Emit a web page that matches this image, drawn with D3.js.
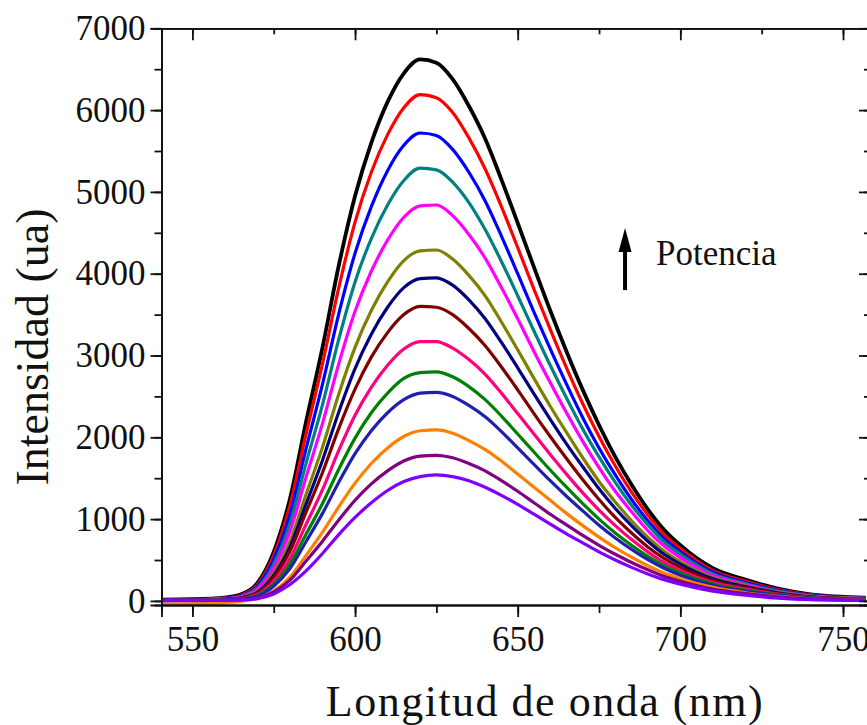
<!DOCTYPE html>
<html>
<head>
<meta charset="utf-8">
<script src="https://cdn.jsdelivr.net/npm/d3@7"></script>
<style>
  body { margin: 0; background: #fff; overflow: hidden; }
  text { font-family: "Liberation Serif", "Times New Roman", serif; fill: #111; }
</style>
</head>
<body>
<svg width="867" height="725"></svg>
<script>
var wavelengths = [540, 550, 560, 565, 570, 575, 580, 585, 590, 595, 600, 605, 610, 615, 620, 625, 630, 635, 640, 645,
                   650, 655, 660, 665, 670, 675, 680, 685, 690, 695, 700, 710, 720, 730, 740, 757];

// one intensity array per pump power, highest first
var sBlack   = [15, 20, 40, 80, 220, 600, 1250, 2200, 3100, 4100, 4950, 5600, 6100, 6450, 6620, 6580, 6380, 6050, 5650, 5150,
                4620, 4080, 3550, 3050, 2580, 2150, 1760, 1420, 1120, 870, 680, 400, 260, 150, 80, 40];
var sRed     = [12, 18, 35, 72, 200, 560, 1170, 2050, 2900, 3830, 4630, 5240, 5700, 6030, 6190, 6150, 5970, 5660, 5280, 4820,
                4320, 3810, 3320, 2850, 2410, 2010, 1650, 1330, 1050, 810, 640, 370, 240, 140, 75, 35];
var sBlue    = [10, 15, 32, 65, 180, 510, 1060, 1870, 2650, 3510, 4250, 4820, 5260, 5570, 5720, 5690, 5520, 5240, 4890, 4460,
                4000, 3530, 3080, 2650, 2240, 1870, 1540, 1240, 980, 760, 600, 350, 225, 130, 70, 35];
var sTeal    = [10, 14, 28, 58, 160, 450, 950, 1690, 2400, 3200, 3900, 4430, 4840, 5140, 5290, 5270, 5120, 4870, 4540, 4150,
                3730, 3300, 2880, 2480, 2100, 1760, 1450, 1170, 930, 720, 570, 330, 210, 120, 65, 30];
var sMagenta = [8, 12, 25, 50, 140, 400, 850, 1520, 2170, 2900, 3540, 4030, 4410, 4690, 4830, 4840, 4710, 4480, 4190, 3830,
                3450, 3050, 2670, 2300, 1950, 1630, 1340, 1090, 860, 670, 530, 310, 200, 110, 60, 30];
var sOlive   = [8, 12, 22, 42, 115, 340, 730, 1310, 1880, 2530, 3100, 3550, 3900, 4160, 4280, 4290, 4180, 3980, 3730, 3410,
                3070, 2720, 2380, 2060, 1750, 1460, 1210, 980, 780, 610, 480, 285, 185, 105, 55, 28];
var sNavy    = [6, 10, 20, 38, 105, 310, 660, 1190, 1720, 2310, 2840, 3260, 3590, 3830, 3940, 3950, 3860, 3680, 3450, 3160,
                2850, 2530, 2220, 1920, 1640, 1370, 1130, 920, 730, 570, 450, 270, 175, 100, 50, 25];
var sWine    = [6, 9, 18, 36, 100, 290, 610, 1090, 1570, 2110, 2590, 2980, 3280, 3500, 3600, 3590, 3500, 3330, 3120, 2860,
                2580, 2290, 2010, 1740, 1480, 1240, 1020, 830, 660, 520, 410, 250, 160, 90, 45, 22];
var sPink    = [5, 8, 15, 30, 80, 240, 520, 940, 1360, 1840, 2270, 2610, 2880, 3080, 3170, 3170, 3090, 2950, 2770, 2540,
                2290, 2040, 1790, 1550, 1320, 1110, 920, 750, 600, 470, 370, 225, 145, 80, 40, 20];
var sGreen   = [5, 7, 13, 25, 68, 205, 450, 820, 1190, 1610, 1990, 2300, 2540, 2720, 2790, 2800, 2740, 2620, 2460, 2260,
                2040, 1820, 1600, 1390, 1190, 1000, 830, 680, 545, 430, 340, 205, 130, 75, 38, 18];
var sRoyal   = [4, 6, 11, 22, 58, 180, 395, 730, 1070, 1450, 1800, 2080, 2300, 2460, 2540, 2550, 2500, 2390, 2250, 2070,
                1870, 1670, 1470, 1280, 1100, 925, 770, 630, 505, 400, 315, 190, 120, 70, 35, 15];
var sOrange  = [-40, -35, -20, -5, 30, 120, 290, 560, 840, 1150, 1440, 1680, 1870, 2010, 2080, 2090, 2050, 1960, 1850, 1710,
                1550, 1390, 1230, 1070, 920, 780, 650, 535, 430, 340, 270, 165, 100, 55, 25, 10];
var sPurple  = [3, 4, 8, 14, 35, 110, 255, 490, 730, 990, 1230, 1430, 1590, 1710, 1770, 1780, 1750, 1680, 1590, 1470,
                1340, 1200, 1060, 930, 800, 680, 570, 470, 380, 300, 240, 145, 90, 50, 25, 10];
var sViolet  = [10, 8, 8, 12, 28, 85, 200, 370, 580, 810, 1020, 1200, 1350, 1460, 1520, 1540, 1520, 1470, 1390, 1290,
                1180, 1060, 940, 820, 710, 600, 500, 410, 330, 260, 205, 120, 70, 35, 15, 5];

var seriesValues = [sBlack, sRed, sBlue, sTeal, sMagenta, sOlive, sNavy, sWine, sPink, sGreen, sRoyal, sOrange, sPurple, sViolet];
var seriesColors = ['#000000', '#ff0000', '#0000ff', '#008080', '#ff00ff', '#808000', '#000080', '#800000',
                    '#ff0080', '#008000', '#2020b0', '#ff8000', '#800080', '#8000ff'];

var xTicks = [550, 600, 650, 700, 750];
var yTicks = [0, 1000, 2000, 3000, 4000, 5000, 6000, 7000];

// arrow annotation, in data units
var arrowX = 683;
var arrowFrom = 3800;
var arrowTo = 4560;
var arrowLabel = 'Potencia';

var svg = d3.select('svg');
// frame edges in px (right edge falls just outside the window, like the reference)
var pLeft = 161.5, pRight = 870, pTop = 28.3, pBottom = 605;

var x = d3.scaleLinear().domain([540.5, 758.3]).range([pLeft, pRight]);
var y = d3.scaleLinear().domain([-50, 7000]).range([pBottom, pTop]);

svg.append('defs').append('clipPath').attr('id', 'plot')
  .append('rect')
    .attr('x', pLeft).attr('y', pTop)
    .attr('width', pRight - pLeft).attr('height', pBottom - pTop);

// spectra
var line = d3.line()
  .x((d, i) => x(wavelengths[i]))
  .y(d => y(d))
  .curve(d3.curveMonotoneX);

svg.append('g')
    .attr('clip-path', 'url(#plot)')
  .selectAll('path')
  .data(seriesValues)
  .enter()
  .append('path')
    .attr('fill', 'none')
    .attr('stroke', (d, i) => seriesColors[i])
    .attr('stroke-width', (d, i) => i === 0 ? 3.8 : 3.2)
    .attr('stroke-linejoin', 'round')
    .attr('d', line);

// minor ticks every 25 nm / 500 ua
var xMinor = d3.range(550, 760, 25);
var yMinor = d3.range(0, 7001, 500);

function styleAxis(g) {
  g.select('.domain').attr('stroke', '#111').attr('stroke-width', 1.8);
  g.selectAll('.tick line').attr('stroke', '#111').attr('stroke-width', 1.8);
  g.selectAll('.tick text').attr('font-size', 35).attr('font-family', '"Liberation Serif", serif').attr('fill', '#111');
}

// bottom
svg.append('g').attr('transform', 'translate(0,' + pBottom + ')')
  .call(d3.axisBottom(x).tickValues(xMinor).tickSize(8).tickFormat(''))
  .call(styleAxis);
svg.append('g').attr('transform', 'translate(0,' + pBottom + ')')
  .call(d3.axisBottom(x).tickValues(xTicks).tickSize(12).tickPadding(9).tickFormat(d3.format('d')))
  .call(styleAxis);

// top (inward ticks)
svg.append('g').attr('transform', 'translate(0,' + pTop + ')')
  .call(d3.axisBottom(x).tickValues(xMinor).tickSize(6).tickFormat(''))
  .call(styleAxis);
svg.append('g').attr('transform', 'translate(0,' + pTop + ')')
  .call(d3.axisBottom(x).tickValues(xTicks).tickSize(12).tickFormat(''))
  .call(styleAxis);

// left
svg.append('g').attr('transform', 'translate(' + pLeft + ',0)')
  .call(d3.axisLeft(y).tickValues(yMinor).tickSize(7).tickFormat(''))
  .call(styleAxis);
svg.append('g').attr('transform', 'translate(' + pLeft + ',0)')
  .call(d3.axisLeft(y).tickValues(yTicks).tickSize(11).tickPadding(5).tickFormat(d3.format('d')))
  .call(styleAxis);

// right (inward ticks)
svg.append('g').attr('transform', 'translate(' + pRight + ',0)')
  .call(d3.axisLeft(y).tickValues(yMinor).tickSize(6).tickFormat(''))
  .call(styleAxis);
svg.append('g').attr('transform', 'translate(' + pRight + ',0)')
  .call(d3.axisLeft(y).tickValues(yTicks).tickSize(11).tickFormat(''))
  .call(styleAxis);

// titles
svg.append('text')
    .attr('x', 545).attr('y', 716)
    .attr('text-anchor', 'middle')
    .attr('font-size', 44)
    .attr('letter-spacing', 1.5)
    .text('Longitud de onda (nm)');

svg.append('text')
    .attr('transform', 'translate(48,347) rotate(-90)')
    .attr('text-anchor', 'middle')
    .attr('font-size', 46)
    .text('Intensidad (ua)');

// power arrow: shaft + filled head
var ax = x(arrowX), tipY = y(arrowTo), headLen = 24, headHalf = 6.5;
svg.append('line')
    .attr('x1', ax).attr('x2', ax)
    .attr('y1', y(arrowFrom)).attr('y2', tipY + headLen - 2)
    .attr('stroke', '#000').attr('stroke-width', 4);
svg.append('path')
    .attr('d', 'M' + ax + ',' + tipY +
               'L' + (ax + headHalf) + ',' + (tipY + headLen) +
               'L' + (ax - headHalf) + ',' + (tipY + headLen) + 'Z')
    .attr('fill', '#000');

svg.append('text')
    .attr('x', ax + 31).attr('y', 265)
    .attr('font-size', 35)
    .text(arrowLabel);
</script>
</body>
</html>
